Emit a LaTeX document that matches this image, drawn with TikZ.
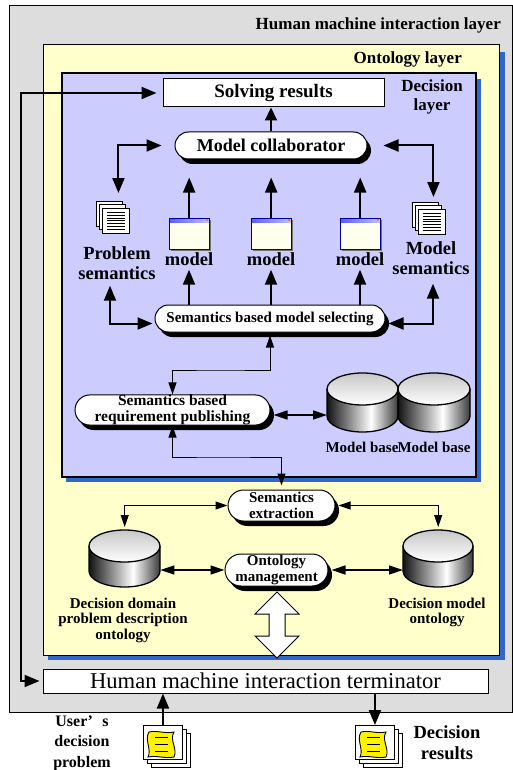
\documentclass[tikz,border=0pt]{standalone}
\usepackage{fontspec}
\setmainfont{Liberation Serif}
\usetikzlibrary{arrows.meta,shapes.misc,shadows,calc}
\definecolor{hmigray}{RGB}{221,221,221}
\definecolor{ontyellow}{RGB}{255,255,204}
\definecolor{declav}{RGB}{204,204,255}
\definecolor{shblue}{RGB}{51,102,204}
\definecolor{winbody}{RGB}{255,255,238}
\newcommand\bfs[2]{\fontsize{#1pt}{#2pt}\selectfont\bfseries}
\newcommand\cyl[5]{%
\begin{scope}[shift={(#2,#3)}]
\begin{scope}
\clip (0,16) -- (0,{#5-16}) arc[start angle=180, end angle=360, x radius={#4*0.5pt}, y radius=16pt] -- (#4,16) -- cycle;
\shade[left color=black!95, right color=white] (-1,0) rectangle ({#4*0.62},#5);
\shade[left color=white, right color=black!80] ({#4*0.62},0) rectangle ({#4+1},#5);
\end{scope}
\draw[line width=1.3pt] (0,16) -- (0,{#5-16}) arc[start angle=180, end angle=360, x radius={#4*0.5pt}, y radius=16pt] -- (#4,16);
\shadedraw[top color=black!22, bottom color=white, line width=1.3pt] ({#4*0.5},16) ellipse [x radius={#4*0.5pt}, y radius=16pt];
\node[inner sep=0, minimum width=#4pt, minimum height=#5pt, anchor=north west] (#1) at (0,0) {};
\end{scope}}
\newcommand\winicon[3]{%
\begin{scope}[shift={(#2,#3)}]
\fill[black!55] (2,2) rectangle (42,33);
\draw[fill=winbody, draw=blue!60!black, line width=0.6pt] (0,0) rectangle (40,31);
\shade[left color=blue!65, right color=blue!25!white] (0,0) rectangle (40,4.5);
\draw[blue!60!black, line width=0.6pt] (0,0) rectangle (40,31);
\fill[orange] (36.5,1.2) rectangle (39,3.4);
\node[inner sep=0, minimum width=40pt, minimum height=31pt, anchor=north west] (#1) at (0,0) {};
\end{scope}}
\newcommand\docstack[3]{%
\begin{scope}[shift={(#2,#3)}, line width=0.9pt]
\draw[fill=white] (0,0) rectangle (26,25);
\draw[fill=white] (3,3.5) rectangle (29.5,28.5);
\draw[fill=white] (6.5,7) rectangle (33,32);
\foreach \k in {0,...,6} \draw[line width=1pt] (10.5,{11.5+2.8*\k}) -- (29,{11.5+2.8*\k});
\node[inner sep=0, minimum width=33pt, minimum height=32pt, anchor=north west] (#1) at (0,0) {};
\end{scope}}
\newcommand\yelldoc[3]{%
\begin{scope}[shift={(#2,#3)}, line width=0.9pt]
\draw[fill=white] (8,8) rectangle (47,42);
\draw[fill=white] (4,4) rectangle (43,38);
\draw[fill=white] (0,0) rectangle (39,34);
\draw[fill=yellow] (6,7) .. controls (14,5) and (22,9) .. (31,7) .. controls (26,15) and (35,24) .. (31,32) .. controls (22,34) and (14,30) .. (5,32) .. controls (9,24) and (1,15) .. (6,7) -- cycle;
\foreach \k in {12.5,19.5,26.5} \draw[line width=1pt] (12,\k) -- (25,\k);
\node[inner sep=0, minimum width=39pt, minimum height=34pt, anchor=north west] (#1) at (0,0) {};
\end{scope}}
\tikzset{
  lbl/.style={inner sep=1pt, align=center},
  box/.style={draw, fill=white, line width=1pt, inner sep=0pt, align=center},
  pill/.style={rounded rectangle, draw, fill=white, line width=1pt, inner sep=0pt, align=center,
     drop shadow={shadow xshift=4pt, shadow yshift=-5pt, fill=black, opacity=1}},
  a1/.style={-{Triangle[length=15pt,width=12pt]}, line width=2pt},
  a2/.style={{Triangle[length=15pt,width=12pt]}-{Triangle[length=15pt,width=12pt]}, line width=2pt},
  m2/.style={{Triangle[length=14pt,width=9pt]}-{Triangle[length=14pt,width=9pt]}, line width=1.4pt},
  t2/.style={{Triangle[length=12pt,width=8pt]}-{Triangle[length=12pt,width=8pt]}, line width=1pt},
}
\begin{document}
\begin{tikzpicture}[x=1pt,y=-1pt]
\useasboundingbox (0,0) rectangle (513,770);
\fill[white] (0,0) rectangle (513,770);
% layers
\draw[fill=hmigray, line width=1pt] (9,6) rectangle (512.5,712);
\fill[shblue] (48,52) rectangle (505,660);
\draw[fill=ontyellow, line width=1pt] (43,45) rectangle (499,655);
\fill[shblue] (66,79) rectangle (481,482);
\draw[fill=declav, line width=1.2pt] (62,73) rectangle (476,477);
% layer titles
\node[lbl, font=\bfs{17}{19}, anchor=east] (thmi) at (502,25) {Human machine interaction layer};
\node[lbl, font=\bfs{17}{19}, anchor=east] (tont) at (463,59) {Ontology layer};
\node[lbl, font=\bfs{17}{19}] (tdec) at (432,97) {Decision\\layer};
% decision layer
\node[box, minimum width=221pt, minimum height=28pt, font=\bfs{19}{21}] (sr) at (273.5,93) {Solving results};
\node[pill, minimum width=192pt, minimum height=27pt, font=\bfs{18}{20}] (mc) at (271,145.5) {Model collaborator};
\docstack{psi}{96}{201}
\docstack{msi}{412}{202}
\winicon{m1}{169}{218}
\winicon{m2}{251}{218}
\winicon{m3}{340}{218}
\node[lbl, font=\bfs{18.5}{20}] (psl) at (117,263) {Problem\\semantics};
\node[lbl, font=\bfs{18.5}{20}] (msl) at (431,258) {Model\\semantics};
\node[lbl, font=\bfs{18.5}{20}] (ml1) at (189,259) {model};
\node[lbl, font=\bfs{18.5}{20}] (ml2) at (271,259) {model};
\node[lbl, font=\bfs{18.5}{20}] (ml3) at (360,259) {model};
\node[pill, minimum width=230pt, minimum height=27pt, font=\bfs{15}{16}] (sbms) at (270,318.5) {Semantics based model selecting};
\node[pill, minimum width=195pt, minimum height=30pt, font=\bfs{15.5}{16}] (sbrp) at (172.5,410) {Semantics based\\requirement publishing};
\cyl{mb1}{327}{373}{71}{59}
\cyl{mb2}{398}{373}{72}{59}
\node[lbl, font=\bfs{15}{16}] (mbl1) at (362,447) {Model base};
\node[lbl, font=\bfs{15}{16}] (mbl2) at (434,447) {Model base};
% ontology layer
\node[pill, minimum width=107pt, minimum height=31pt, font=\bfs{15}{16}] (se) at (281.5,505.5) {Semantics\\extraction};
\node[pill, minimum width=103pt, minimum height=32pt, font=\bfs{15}{16}] (om) at (276.5,570) {Ontology\\management};
\cyl{dd}{89}{530}{71}{57}
\cyl{dm}{403}{530}{70}{57}
\node[lbl, font=\bfs{15}{15.5}] (ddl) at (123,620) {Decision domain\\problem description\\ontology};
\node[lbl, font=\bfs{15}{15.5}] (dml) at (437,612.5) {Decision model\\ontology};
\draw[fill=white, line width=1pt] (277,592) -- (299,614) -- (285,614) -- (285,636) -- (299,636) -- (277,658) -- (255,636) -- (269,636) -- (269,614) -- (255,614) -- cycle;
% HMI layer
\node[box, minimum width=445pt, minimum height=24pt, font=\fontsize{22.6pt}{24pt}\selectfont] (term) at (265.5,681) {Human machine interaction terminator};
\yelldoc{udoc}{143}{725}
\yelldoc{rdoc}{355}{725}
\node[lbl, font=\bfs{16}{20.5}] (ul) at (82,743) {User’\,\, s\\decision\\problem};
\node[lbl, font=\bfs{18.5}{21}] (rl) at (447,742.5) {Decision\\results};
% connectors
\coordinate (lft) at (21,93);
\draw[a2, shorten <=6pt, shorten >=3pt] (sr.west) -- (lft) |- (term.west);
\draw[-{Triangle[length=13pt,width=12pt]}, line width=2pt] (mc.north) -- (mc.north |- sr.south);
\draw[a2, shorten <=8pt, shorten >=13pt] ([xshift=5.5pt]psi.north) |- (mc.west);
\draw[a2, shorten <=16pt, shorten >=5pt] (mc.east) -| ([xshift=4.5pt]msi.north);
\draw[a1, shorten >=18pt] (m1.north) -- (m1.north |- mc.south);
\draw[a1, shorten >=18pt] (m2.north) -- (m2.north |- mc.south);
\draw[a1, shorten >=18pt] (m3.north) -- (m3.north |- mc.south);
\draw[a1, shorten >=3pt] (sbms.north -| ml1) -- (ml1.south);
\draw[a1, shorten >=3pt] (sbms.north -| ml2) -- (ml2.south);
\draw[a1, shorten >=3pt] (sbms.north -| ml3) -- (ml3.south);
\draw[a2, shorten <=5pt, shorten >=2pt] ([xshift=-7pt]psl.south) |- ([yshift=-5pt]sbms.west);
\draw[a2, shorten <=3pt, shorten >=8pt] ([yshift=-5pt]sbms.east) -| ([xshift=2pt]msl.south);
\coordinate (j1) at (220,370);
\draw[t2, shorten >=3pt] (sbrp.north) |- (j1) -| (sbms.south);
\coordinate (j2) at (220,457);
\draw[t2, shorten >=4pt] (sbrp.south) |- (j2) -| (se.north);
\draw[m2, shorten <=3pt] ([yshift=-5pt]sbrp.east) -- ([yshift=-5pt]sbrp.east -| mb1.west);
\draw[t2, shorten >=3pt] (se.west) -| (dd.north);
\draw[t2, shorten <=3pt, shorten >=3pt] (se.east) -| (dm.north);
\draw[m2] (om.west) -- (om.west -| dd.east);
\draw[m2, shorten <=3pt] (om.east) -- (om.east -| dm.west);
\draw[a1] (udoc.north) -- (udoc.north |- term.south);
\draw[a1] (term.south -| rdoc.north) -- (rdoc.north);
\end{tikzpicture}
\end{document}
